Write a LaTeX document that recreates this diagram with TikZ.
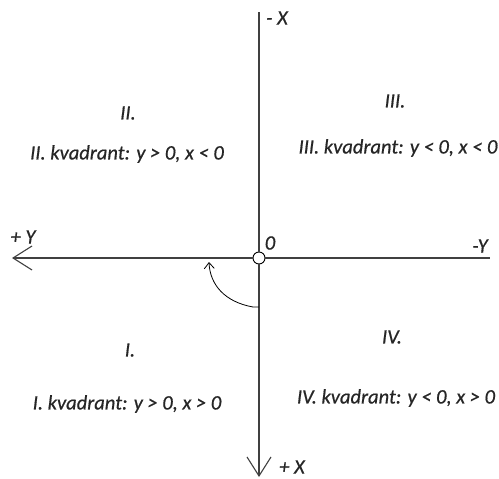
\documentclass[tikz,border=0pt]{standalone}
\usepackage{fontspec}
\setmainfont{Carlito}
\newfontfamily\lblfont{Carlito}[ItalicFeatures={FakeBold=0.6}]
\usetikzlibrary{arrows.meta}
\begin{document}
\begin{tikzpicture}[x=1pt,y=-1pt,
  lbl/.style={font=\lblfont\itshape\fontsize{20.5}{23}\selectfont, inner sep=0pt, text=black!85},
  axis/.style={draw=black!75, line width=1.3pt},
  bigtip/.style={-{Straight Barb[length=19pt,width=24pt,line width=1.1pt]}},
  smalltip/.style={-{Straight Barb[length=6pt,width=10pt]}}]
\useasboundingbox (0,0) rectangle (499,479);
\coordinate (top) at (259,12);
\coordinate (bottom) at (259,477);
\coordinate (left) at (12,258);
\coordinate (right) at (490,258);
\node[circle, draw=black, fill=white, line width=0.9pt, minimum size=12pt, inner sep=0pt] (o) at (259,258) {};
\draw[axis, bigtip] (o.south) -- (bottom);
\draw[axis] (o.north) -- (top);
\draw[axis, bigtip] (o.west) -- (left);
\draw[axis] (o.east) -- (right);
\coordinate (arcstart) at (259,307);
\coordinate (arcend) at (209,262);
\draw[black, line width=0.8pt, smalltip] (arcstart) -- (253,307) .. controls (225,302) and (210,285) .. (arcend);
\node[lbl] (mx) at (277,18) {- X};
\node[lbl] (py) at (23,237) {+ Y};
\node[lbl] (zero) at (270,243) {0};
\node[lbl] (my) at (480,246) {-Y};
\node[lbl] (px) at (292,467) {+ X};
\node[lbl] (q2) at (128,113) {II.};
\node[lbl] (q2t) at (127,154) {II. kvadrant: y > 0, x < 0};
\node[lbl] (q3) at (395,101) {III.};
\node[lbl] (q3t) at (398,148) {III. kvadrant: y < 0, x < 0};
\node[lbl] (q1) at (130,350) {I.};
\node[lbl] (q1t) at (127,404) {I. kvadrant: y > 0, x > 0};
\node[lbl] (q4) at (392,337) {IV.};
\node[lbl] (q4t) at (396,398) {IV. kvadrant: y < 0, x > 0};
\end{tikzpicture}
\end{document}
